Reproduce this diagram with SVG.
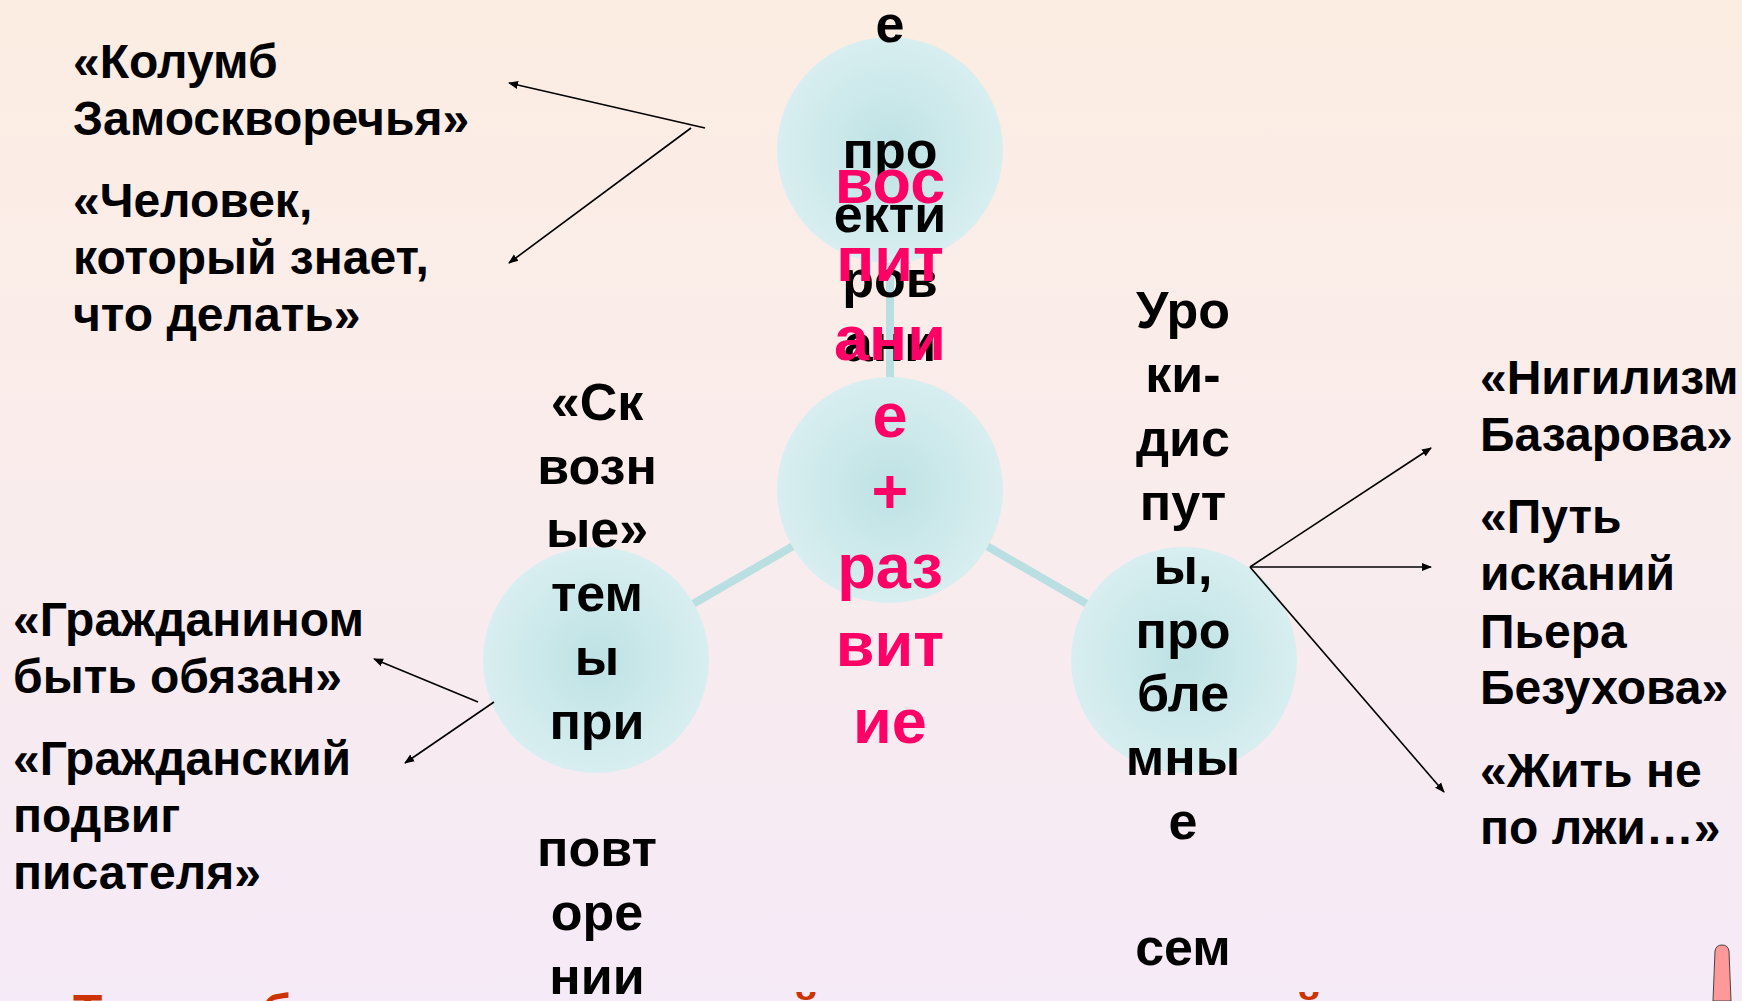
<svg xmlns="http://www.w3.org/2000/svg" width="1742" height="1001" viewBox="0 0 1742 1001">
<defs>
<linearGradient id="bg" x1="0" y1="0" x2="0" y2="1">
<stop offset="0" stop-color="#FCEDE2"/>
<stop offset="0.5" stop-color="#F9ECEC"/>
<stop offset="1" stop-color="#F5EAF7"/>
</linearGradient>
<radialGradient id="ball" cx="0.5" cy="0.5" r="0.5">
<stop offset="0" stop-color="#BEE2E4"/>
<stop offset="1" stop-color="#D8EEF0"/>
</radialGradient>
<marker id="arr" viewBox="0 0 10 10" refX="9" refY="5" markerWidth="10" markerHeight="10" markerUnits="userSpaceOnUse" orient="auto">
<path d="M0,1 L10,5 L0,9 Z" fill="#000"/>
</marker>
<style>
.t{font-family:"Liberation Sans",Arial,sans-serif;font-weight:bold;}
.lbl{font-size:48px;fill:#000;}
.nd{font-size:52px;fill:#000;text-anchor:middle;}
.pk{font-size:63px;fill:#FF0066;text-anchor:middle;}
.ball{fill:url(#ball);}
.link{stroke:#B9DFE2;stroke-width:8;fill:none;}
.ar{stroke:#000;stroke-width:1.6;fill:none;marker-end:url(#arr);}
</style>
</defs>
<rect width="1742" height="1001" fill="url(#bg)"/>
<g id="connectors">
<line class="link" x1="890" y1="150" x2="890" y2="490"/>
<line class="link" x1="890" y1="490" x2="596" y2="660"/>
<line class="link" x1="890" y1="490" x2="1184" y2="660"/>
</g>
<g id="node-top">
<circle class="ball" cx="890" cy="150" r="113"/>
<text class="t nd"><tspan x="890" y="42">е</tspan><tspan x="890" y="168">про</tspan><tspan x="890" y="232">екти</tspan><tspan x="890" y="297">ров</tspan><tspan x="890" y="361">ани</tspan></text>
</g>
<g id="node-center">
<circle class="ball" cx="890" cy="490" r="113"/>
<text class="t pk"><tspan x="890" y="203">вос</tspan><tspan x="890" y="281">пит</tspan><tspan x="890" y="360">ани</tspan><tspan x="890" y="437">е</tspan><tspan x="890" y="513">+</tspan><tspan x="890" y="588">раз</tspan><tspan x="890" y="666">вит</tspan><tspan x="890" y="743">ие</tspan></text>
</g>
<g id="node-left">
<circle class="ball" cx="596" cy="660" r="113"/>
<text class="t nd"><tspan x="597" y="420">«Ск</tspan><tspan x="597" y="484">возн</tspan><tspan x="597" y="547">ые»</tspan><tspan x="597" y="611">тем</tspan><tspan x="597" y="675">ы</tspan><tspan x="597" y="739">при</tspan><tspan x="597" y="866">повт</tspan><tspan x="597" y="930">оре</tspan><tspan x="597" y="994">нии</tspan></text>
</g>
<g id="node-right">
<circle class="ball" cx="1184" cy="660" r="113"/>
<text class="t nd"><tspan x="1183" y="328">Уро</tspan><tspan x="1183" y="392">ки-</tspan><tspan x="1183" y="456">дис</tspan><tspan x="1183" y="520">пут</tspan><tspan x="1183" y="584">ы,</tspan><tspan x="1183" y="648">про</tspan><tspan x="1183" y="711">бле</tspan><tspan x="1183" y="775">мны</tspan><tspan x="1183" y="839">е</tspan><tspan x="1183" y="965">сем</tspan></text>
</g>
<g id="arrows">
<line class="ar" x1="705" y1="128" x2="509" y2="83"/>
<line class="ar" x1="691" y1="128" x2="509" y2="263"/>
<line class="ar" x1="478" y1="702" x2="374" y2="659"/>
<line class="ar" x1="494" y1="702" x2="405" y2="763"/>
<line class="ar" x1="1250" y1="567" x2="1431" y2="448"/>
<line class="ar" x1="1250" y1="567" x2="1431" y2="567"/>
<line class="ar" x1="1250" y1="567" x2="1444" y2="792"/>
</g>
<g id="label-top-left">
<text class="t lbl"><tspan x="73" y="78">«Колумб</tspan><tspan x="73" y="135">Замоскворечья»</tspan></text>
<text class="t lbl"><tspan x="73" y="217">«Человек,</tspan><tspan x="73" y="274">который знает,</tspan><tspan x="73" y="331">что делать»</tspan></text>
</g>
<g id="label-bottom-left">
<text class="t lbl"><tspan x="13" y="636">«Гражданином</tspan><tspan x="13" y="693">быть обязан»</tspan></text>
<text class="t lbl"><tspan x="13" y="775">«Гражданский</tspan><tspan x="13" y="832">подвиг</tspan><tspan x="13" y="889">писателя»</tspan></text>
</g>
<g id="label-right">
<text class="t lbl"><tspan x="1480" y="394">«Нигилизм</tspan><tspan x="1480" y="451">Базарова»</tspan></text>
<text class="t lbl"><tspan x="1480" y="533">«Путь</tspan><tspan x="1480" y="590">исканий</tspan><tspan x="1480" y="648">Пьера</tspan><tspan x="1480" y="704">Безухова»</tspan></text>
<text class="t lbl"><tspan x="1480" y="787">«Жить не</tspan><tspan x="1480" y="844">по лжи…»</tspan></text>
</g>
<g id="bottom-line">
<text class="t" font-size="48" fill="#CC3300"><tspan x="73" y="1028">Т</tspan><tspan x="262" y="1028">б</tspan><tspan x="791" y="1028">й</tspan><tspan x="1294" y="1028">й</tspan></text>
</g>
<g id="pointer">
<path d="M1713,1001 L1715,951 Q1716,945 1722,945 Q1728,945 1729,951 L1731,1001 Z" fill="#FF9999" stroke="#444" stroke-width="1"/>
</g>
</svg>
